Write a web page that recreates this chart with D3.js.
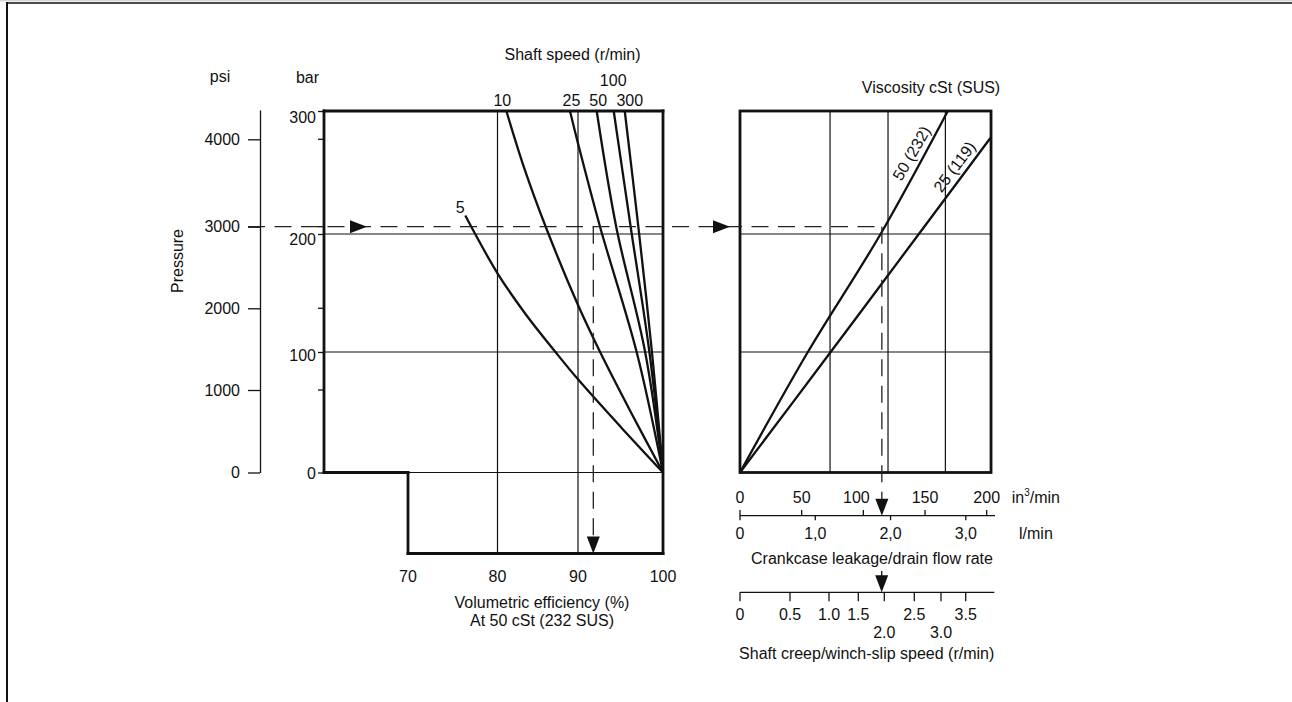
<!DOCTYPE html>
<html><head><meta charset="utf-8">
<script src="https://cdn.jsdelivr.net/npm/d3@7"></script>
<style>
body{margin:0;background:#fff;}
svg{display:block;font-family:'Liberation Sans',Arial,Helvetica,sans-serif;}
text{fill:#111;font-size:16px;}
</style></head><body>
<svg id="c" width="1292" height="702"></svg>
<script>
// ---------------- data ----------------
const effTicks = [70, 80, 90, 100];
const barTicks = [0, 100, 200, 300];
const psiTicks = [0, 1000, 2000, 3000, 4000];
const speedLabels = ["5", "10", "25", "50", "100", "300"];
// shaft-speed curves: [volumetric efficiency %, pressure bar]
const curve5   = [[76.4, 215], [80, 166.7], [83.5, 132], [87.2, 100], [90, 77.3], [95, 38], [100, 0]];
const curve10  = [[81.1, 300], [83.3, 254], [86.0, 205.7], [90, 139.8], [92.6, 100], [96.3, 49], [100, 0]];
const curve25  = [[89.0, 300], [90, 273.7], [92.6, 205.7], [96.9, 100], [100, 0]];
const curve50  = [[92.2, 300], [94.5, 205.7], [97.9, 100], [100, 0]];
const curve100 = [[94.2, 300], [96.2, 205.7], [98.4, 100], [100, 0]];
const curve300 = [[95.5, 300], [97.1, 205.7], [98.7, 100], [100, 0]];
// viscosity lines: [leakage in3/min, pressure bar]
const viscLabels = ["50 (232)", "25 (119)"];
const visc50 = [[0, 0], [55, 100], [114, 200], [168.5, 300]];
const visc25 = [[0, 0], [73.5, 100], [145, 200], [203, 278]];
const leakGrid = [73, 120, 166.5];
const inTicks = [0, 50, 100, 150, 200];
const lpmTicks = [0, 1, 2, 3];
const lpmTickLabels = ["0", "1,0", "2,0", "3,0"];
const creepTicks = [0, 0.5, 1, 1.5, 2, 2.5, 3, 3.5];
const creepTickLabels = ["0", "0.5", "1.0", "1.5", "2.0", "2.5", "3.0", "3.5"];
const creepLowRow = [2, 3];
// worked example
const opPsi = 3000, opEff = 91.8, opLeak = 115, opCreep = 1.95;

// ---------------- layout ----------------
const svg = d3.select("#c");
const xL = d3.scaleLinear().domain([60, 70, 80, 90, 100]).range([324, 408, 497.5, 578, 663]);
const y = d3.scaleLinear().domain([0, 100, 200, 300]).range([472.5, 352, 234, 111]);
const psiY = d3.scaleLinear().domain([0, 1000, 2000, 3000, 4000, 4351]).range([472.5, 390, 308.3, 226.7, 139.3, 110]);
const xR = d3.scaleLinear().domain([0, 200]).range([740, 986.7]);
const lpm = d3.scaleLinear().domain([0, 200 / 61.0237]).range([740, 986.7]);
const creep = d3.scaleLinear().domain([0, 0.5, 1, 1.5, 2, 2.5, 3, 3.5, 4.08])
  .range([740, 790, 829, 858.3, 884.3, 914.3, 941, 965.7, 994.3]);
const leftBottom = 553.5, inAxisY = 515.7, creepAxisY = 592.3;
const xRmax = 203.5;

const thick = 2.8, thin = 1.2;
function line(x1, y1, x2, y2, w, extra) {
  const l = svg.append("line").attr("x1", x1).attr("y1", y1).attr("x2", x2).attr("y2", y2)
    .attr("stroke", "#111").attr("stroke-width", w).attr("stroke-linecap", "square");
  if (extra) extra(l);
  return l;
}
function arrow(tx, ty, dir) {
  const L = 17, H = 6.5;
  let p;
  if (dir === "right") p = [[tx, ty], [tx - L, ty - H], [tx - L, ty + H]];
  else p = [[tx, ty], [tx - H, ty - L], [tx + H, ty - L]];
  svg.append("path").attr("d", "M" + p.map(d => d.join(",")).join("L") + "Z").attr("fill", "#111");
}
function txt(x, yy, s, anchor) {
  return svg.append("text").attr("x", x).attr("y", yy).attr("text-anchor", anchor || "middle").text(s);
}

// frame
line(0, 0.8, 1292, 0.8, 1, l => l.attr("stroke", "#c8c8c8"));
line(7, 3, 1292, 3, 1.6);
line(7, 3, 7, 702, 2);

// ---------------- left panel ----------------
[100, 200].forEach(b => line(xL(60), y(b), xL(100), y(b), thin));
line(xL(70), y(0), xL(100), y(0), thin);
[80, 90].forEach(e => line(xL(e), y(300), xL(e), leftBottom, thin));
line(xL(60), y(300), xL(100), y(300), thick);
line(xL(60), y(300), xL(60), y(0), thick);
line(xL(60), y(0), xL(70), y(0), thick);
line(xL(70), y(0), xL(70), leftBottom, thick);
line(xL(70), leftBottom, xL(100), leftBottom, thick);
line(xL(100), y(300), xL(100), leftBottom, thick);

effTicks.forEach(e => txt(xL(e), 581.5, String(e)));
txt(542, 608, "Volumetric efficiency (%)");
txt(542, 625.5, "At 50 cSt (232 SUS)");

// psi axis
const psiAxis = d3.axisLeft(psiY).tickValues(psiTicks).tickFormat(d3.format("d"))
  .tickSize(12).tickSizeOuter(0).tickPadding(8);
const gp = svg.append("g").attr("transform", "translate(260,0)").call(psiAxis);
gp.selectAll("path,line").attr("stroke", "#111").attr("stroke-width", 1.3);
gp.selectAll("text").style("font-size", "16px").attr("fill", "#111");
gp.attr("font-family", null).attr("font-size", null);

// bar axis
const barNudge = {0: 0.5, 100: 3, 200: 5, 300: 6};
const barAxis = d3.axisLeft(y).tickValues(barTicks).tickFormat(d3.format("d"))
  .tickSize(6).tickSizeOuter(0).tickPadding(2);
const gb = svg.append("g").attr("transform", `translate(${xL(60)},0)`).call(barAxis);
gb.select(".domain").remove();
gb.selectAll("line").attr("stroke", "#111").attr("stroke-width", 1.3);
gb.selectAll("text").style("font-size", "16px").attr("fill", "#111")
  .attr("transform", d => `translate(0,${barNudge[d]})`);
gb.attr("font-family", null).attr("font-size", null);
[1000, 2000, 3000, 4000].forEach(p => line(xL(60) - 6, psiY(p), xL(60), psiY(p), 1.3, l => l.attr("stroke-linecap", "butt")));

txt(220, 81.6, "psi");
txt(307.5, 83.3, "bar");
txt(572.5, 59.5, "Shaft speed (r/min)");
svg.append("text").attr("transform", "translate(183,261) rotate(-90)").attr("text-anchor", "middle").text("Pressure");

// speed curves
const curves = [curve5, curve10, curve25, curve50, curve100, curve300];
const lineL = d3.line().x(d => xL(d[0])).y(d => y(d[1])).curve(d3.curveCatmullRom.alpha(0.5));
curves.forEach(c => svg.append("path").attr("d", lineL(c)).attr("fill", "none")
  .attr("stroke", "#111").attr("stroke-width", 2.3));
const labelOffsets = [[-5, -2.5], [-4, -5.5], [1.5, -5.5], [1.5, -5.5], [-0.5, -25.5], [5, -5.5]];
curves.forEach((c, i) => {
  const x0 = xL(c[0][0]), y0 = y(c[0][1]);
  txt(x0 + labelOffsets[i][0], y0 + labelOffsets[i][1], speedLabels[i]);
});

// ---------------- right panel ----------------
[100, 200].forEach(b => line(xR(0), y(b), xR(xRmax), y(b), thin));
leakGrid.forEach(v => line(xR(v), y(300), xR(v), y(0), thin));
svg.append("rect").attr("x", xR(0)).attr("y", y(300)).attr("width", xR(xRmax) - xR(0))
  .attr("height", y(0) - y(300)).attr("fill", "none").attr("stroke", "#111").attr("stroke-width", thick);

const lineR = d3.line().x(d => xR(d[0])).y(d => y(d[1])).curve(d3.curveCatmullRom.alpha(0.5));
const viscLines = [visc50, visc25];
const viscLabelBar = [261, 249];
viscLines.forEach((c, i) => {
  svg.append("path").attr("d", lineR(c)).attr("fill", "none").attr("stroke", "#111").attr("stroke-width", 2.3);
  const a = c[0], b = c[c.length - 1];
  const ang = Math.atan2(y(b[1]) - y(a[1]), xR(b[0]) - xR(a[0])) * 180 / Math.PI;
  const bv = viscLabelBar[i];
  let lv = 0;
  for (let k = 1; k < c.length; k++) {
    if (bv <= c[k][1]) { const t = (bv - c[k - 1][1]) / (c[k][1] - c[k - 1][1]); lv = c[k - 1][0] + t * (c[k][0] - c[k - 1][0]); break; }
  }
  svg.append("text").attr("transform", `translate(${xR(lv)},${y(bv)}) rotate(${ang})`)
    .attr("y", -6).attr("text-anchor", "middle").text(viscLabels[i]);
});
txt(931, 93, "Viscosity cSt (SUS)");

// leakage axes
line(xR(0), inAxisY, 995, inAxisY, 1.3, l => l.attr("stroke-linecap", "butt"));
inTicks.forEach(v => line(xR(v), inAxisY - 5.7, xR(v), inAxisY, 1.3, l => l.attr("stroke-linecap", "butt")));
lpmTicks.forEach(v => line(lpm(v), inAxisY, lpm(v), inAxisY + 4.5, 1.3, l => l.attr("stroke-linecap", "butt")));
const inNudge = {100: -7};
inTicks.forEach(v => txt(xR(v) + (inNudge[v] || 0), 502.7, String(v)));
const inUnit = svg.append("text").attr("x", 1011.7).attr("y", 502.7);
inUnit.append("tspan").text("in");
inUnit.append("tspan").attr("dy", -7).style("font-size", "10px").text("3");
inUnit.append("tspan").attr("dy", 7).text("/min");
lpmTicks.forEach((v, i) => txt(lpm(v), 539, lpmTickLabels[i]));
txt(1019, 539, "l/min", "start");
txt(872, 563.5, "Crankcase leakage/drain flow rate");

// creep axis
line(creep(0), creepAxisY, creep(4.08), creepAxisY, 1.3, l => l.attr("stroke-linecap", "butt"));
creepTicks.forEach((v, i) => {
  line(creep(v), creepAxisY, creep(v), creepAxisY + 9, 1.3, l => l.attr("stroke-linecap", "butt"));
  const low = creepLowRow.includes(v);
  txt(creep(v), low ? 638 : 620, creepTickLabels[i]);
});
txt(866.7, 659, "Shaft creep/winch-slip speed (r/min)");

// ---------------- worked example (dashed) ----------------
const dash = "17,9.5";
const yOp = psiY(opPsi);
line(248, yOp, xR(opLeak) - 5, yOp, 1.3, l => l.attr("stroke-dasharray", dash).attr("stroke", "#222").attr("stroke-linecap", "butt"));
arrow(367, yOp, "right");
arrow(730, yOp, "right");
line(xL(opEff), yOp, xL(opEff), leftBottom - 15, 1.3, l => l.attr("stroke-dasharray", dash).attr("stroke", "#222").attr("stroke-linecap", "butt"));
arrow(xL(opEff), leftBottom, "down");
line(xR(opLeak), yOp, xR(opLeak), inAxisY - 15, 1.3, l => l.attr("stroke-dasharray", dash).attr("stroke", "#222").attr("stroke-linecap", "butt"));
arrow(xR(opLeak), inAxisY, "down");
line(creep(opCreep), 571, creep(opCreep), creepAxisY - 12, 1.3, l => l.attr("stroke-linecap", "butt"));
arrow(creep(opCreep), creepAxisY, "down");
</script>
</body></html>
